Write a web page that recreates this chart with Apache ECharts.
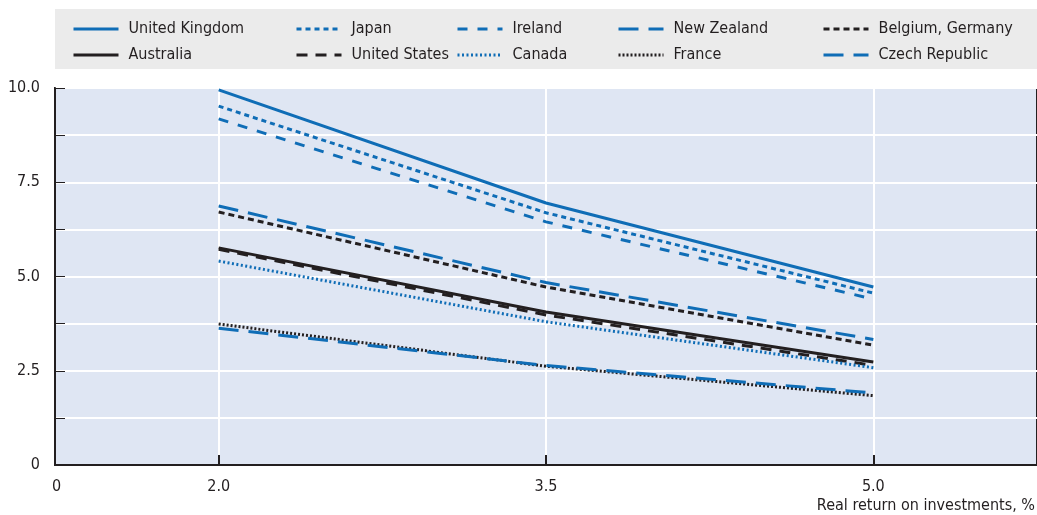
<!DOCTYPE html>
<html><head><meta charset="utf-8">
<script src="https://cdn.jsdelivr.net/npm/echarts@6/dist/echarts.min.js"></script>
<style>html,body{margin:0;padding:0;background:#fff}#c{width:1037px;height:515px}</style>
</head><body><div id="c"></div>
<script>
const categories = ['2.0', '3.5', '5.0'];
const yTicks = [0, 2.5, 5.0, 7.5, 10.0];
const xOriginLabel = '0';
const xAxisName = 'Real return on investments, %';

const unitedKingdom = [9.95, 6.95, 4.72];
const australia     = [5.76, 4.06, 2.73];
const japan         = [9.52, 6.69, 4.56];
const unitedStates  = [5.72, 3.98, 2.64];
const ireland       = [9.18, 6.45, 4.40];
const canada        = [5.41, 3.80, 2.58];
const newZealand    = [6.87, 4.84, 3.33];
const france        = [3.74, 2.62, 1.84];
const belgiumGermany= [6.71, 4.72, 3.18];
const czechRepublic = [3.63, 2.64, 1.91];

const BLUE = '#0f6db6', BLACK = '#231f20';
const FONT = "'DejaVu Sans Condensed','Liberation Sans Narrow',sans-serif";
const FS = 16;

function s(name, data, color, type) {
  return { name, type: 'line', data, symbol: 'none', smooth: false,
    lineStyle: { color, width: 3, type }, itemStyle: { color } };
}
const series = [
  s('United Kingdom', unitedKingdom, BLUE, 'solid'),
  s('Australia', australia, BLACK, 'solid'),
  s('Japan', japan, BLUE, [5, 4]),
  s('United States', unitedStates, BLACK, [11, 8]),
  s('Ireland', ireland, BLUE, [10, 10]),
  s('Canada', canada, BLUE, [2, 2.5]),
  s('New Zealand', newZealand, BLUE, [20, 10]),
  s('France', france, BLACK, [2, 2]),
  s('Belgium, Germany', belgiumGermany, BLACK, [6, 4]),
  s('Czech Republic', czechRepublic, BLUE, [20, 10])
];

const legendCols = [
  [72, ['United Kingdom', 'Australia']],
  [295, ['Japan', 'United States']],
  [456, ['Ireland', 'Canada']],
  [617, ['New Zealand', 'France']],
  [822, ['Belgium, Germany', 'Czech Republic']]
];
const legends = legendCols.map(([x, names]) => ({
  data: names, orient: 'vertical', left: x, top: 19, itemWidth: 45, itemHeight: 14,
  itemGap: 6, padding: 0, selectedMode: false,
  itemStyle: { opacity: 0, borderWidth: 0 },
  lineStyle: { width: 3 },
  textStyle: { fontFamily: FONT, fontSize: FS, color: BLACK, lineHeight: 20, padding: [0, 0, 0, 5] }
}));

const chart = echarts.init(document.getElementById('c'), null, { renderer: 'canvas' });
chart.setOption({
  animation: false,
  backgroundColor: '#ffffff',
  textStyle: { fontFamily: FONT },
  legend: legends,
  graphic: [
    { type: 'rect', z: -10, shape: { x: 55, y: 9, width: 982, height: 60 }, style: { fill: '#ebebeb' } },
    { type: 'text', left: 52, top: 479, style: { text: xOriginLabel, font: FS + "px " + FONT, fill: BLACK } },
    { type: 'text', right: 2, top: 498, style: { text: xAxisName, font: FS + "px " + FONT, fill: BLACK } }
  ],
  grid: { left: 55, right: -2, top: 88, bottom: 50, show: true, backgroundColor: '#dfe6f3',
    borderColor: BLACK, borderWidth: 2 },
  xAxis: {
    type: 'category', data: categories, boundaryGap: true,
    axisLine: { show: true, lineStyle: { color: BLACK, width: 2 } },
    axisTick: { show: true, alignWithLabel: true, inside: true, length: 10, lineStyle: { color: BLACK, width: 2 } },
    axisLabel: { color: BLACK, fontSize: FS, fontFamily: FONT, margin: 14 },
    splitLine: { show: true, alignWithLabel: true, lineStyle: { color: '#ffffff', width: 2 } }
  },
  yAxis: {
    type: 'value', min: 0, max: 10, interval: 1.25,
    axisLine: { show: true, lineStyle: { color: BLACK, width: 2 } },
    axisTick: { show: true, inside: true, length: 10, lineStyle: { color: BLACK, width: 1 } },
    axisLabel: { color: BLACK, fontSize: FS, fontFamily: FONT, margin: 15,
      formatter: v => v === 0 ? '0' : (yTicks.includes(v) ? v.toFixed(1) : '') },
    splitLine: { show: true, lineStyle: { color: '#ffffff', width: 2 } }
  },
  series
});
</script></body></html>
